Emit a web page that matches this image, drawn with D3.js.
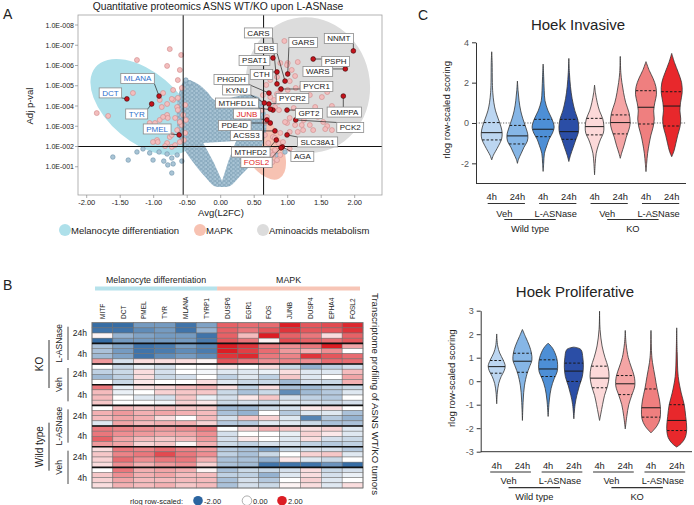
<!DOCTYPE html>
<html><head><meta charset="utf-8">
<script src="https://cdn.jsdelivr.net/npm/d3@7"></script>
<style>body{margin:0;background:#fff}svg{display:block}text{font-family:Arial,"Liberation Sans",Helvetica,sans-serif;fill:#222}</style>
</head><body><svg id="c" width="694" height="505"></svg>
<script>
// ================= DATA =================
// Panel A: volcano
const volcanoTitle = "Quantitative proteomics ASNS WT/KO upon L-ASNase";
const fcTicks = [-2,-1.5,-1,-0.5,0,0.5,1,1.5,2];
const pvalTicks = [8,7,6,5,4,3,2,1];
const pvalTickLabels = ["1.0E-008","1.0E-007","1.0E-006","1.0E-005","1.0E-004","1.0E-003","1.0E-002","1.0E-001"];
const fcCutoffs = [-0.56, 0.64];
const nlpCutoff = 2;
// dense non-significant cloud outline (L2FC, -log10 p) and its empty V-shaped core
const cloudFC  = [-0.53,-0.34,-0.20,-0.09,0.14,0.36,0.56,0.66,0.68,0.62,0.51,0.29,0.14,0.02,-0.10,-0.23,-0.38,-0.52,-0.61,-0.65,-0.65,-0.61];
const cloudNLP = [5.28,5.09,4.69,4.30,4.40,4.54,4.44,3.80,2.81,2.07,1.33,0.54,0.05,0.0,0.05,0.49,1.09,1.73,2.32,3.06,4.05,4.79];
const holeFC  = [-0.26,0.23,0.12,0.02,-0.10];
const holeNLP = [2.17,2.27,1.33,0.30,1.19];
// significant proteins (pink)
const pinkFC = [-0.76,-0.59,-1.25,-0.80,-0.61,-0.64,-0.71,-0.86,-1.31,-0.91,-0.88,-0.71,-0.65,-1.85,-1.68,-0.80,-0.68,-0.56,-0.58,-0.91,-1.06,-0.65,-0.53,-0.76,-0.61,-0.95,-0.80,-0.73,-1.01,-0.68,-0.86,-0.73,-0.83,-0.64,-0.73,-0.80,-0.64,-0.86,-0.79,-0.61,-0.98,-1.09,-0.94,-0.58,-0.53,-0.55,-0.52,
  0.95,1.08,1.00,1.15,1.06,1.11,1.03,1.30,1.21,1.12,1.00,0.89,0.84,0.74,0.80,0.86,0.81,0.87,1.09,0.99,1.11,1.21,1.33,1.53,1.59,1.38,1.15,0.89,0.78,0.66,1.36,1.45,1.66,1.41,1.51,1.59,0.99,0.84,1.03,0.96,1.24,1.66,1.56,1.23,1.03,0.81,0.86,0.93,1.03,0.81,0.89,0.74,0.71,0.66,0.78,0.84,0.77,0.69,0.89,0.62,0.63,0.68,0.74,1.18,1.33];
const pinkNLP = [6.81,6.52,6.27,5.98,5.78,5.28,4.79,4.64,4.64,4.30,3.95,4.30,3.95,3.65,3.51,3.56,3.41,3.56,3.06,3.31,3.16,2.81,2.67,2.47,2.22,2.32,2.17,1.98,2.22,2.07,2.81,2.57,2.02,4.40,4.35,4.10,3.80,3.46,3.41,3.21,3.16,2.96,2.22,4.89,4.05,2.32,3.31,
  7.21,7.11,6.12,6.17,5.78,5.48,5.23,5.58,4.94,4.89,4.79,4.79,4.59,4.44,4.30,4.20,3.95,3.80,3.90,3.16,3.06,3.06,3.06,3.21,3.01,2.81,2.72,2.67,2.47,3.21,3.56,3.46,4.00,3.95,4.44,4.69,6.02,5.43,3.41,3.21,3.31,2.81,2.86,2.81,2.72,2.42,2.17,2.22,1.88,1.83,1.58,1.73,2.17,2.57,1.58,1.33,1.23,3.46,6.12,3.80,4.54,5.04,5.28,4.30,4.54];
// scattered non-significant proteins (blue)
const blueFC  = [-1.61,-1.38,-1.16,-1.06,-1.01,-0.85,-0.80,-0.73,-0.71,-0.79,-0.73,-0.65,-0.58,-0.92,-1.25,-0.46,-0.52,0.96,0.83];
const blueNLP = [1.48,1.33,1.88,1.68,1.33,1.28,1.63,1.43,1.14,1.09,0.69,1.58,1.28,1.73,1.73,5.14,5.28,1.73,1.58];
// highlighted proteins
const hitGenes = ["NNMT","PSPH","WARS","GARS","CBS","CARS","PSAT1","CTH","PHGDH","KYNU","PYCR1","PYCR2","MTHFD1L","GPT2","GMPPA","JUNB","PDE4D","PCK2","ACSS3","SLC38A1","MTHFD2","AGA","FOSL2","MLANA","DCT","TYR","PMEL"];
const hitFC  = [1.98,1.38,1.86,1.00,0.96,0.84,0.78,0.84,0.72,0.65,0.90,0.72,0.78,0.99,1.83,0.69,0.74,1.12,0.81,0.99,0.83,0.92,0.90,-0.92,-1.40,-1.03,-0.62];
const hitNLP = [6.72,6.32,5.83,5.58,5.23,5.09,6.37,5.68,4.64,4.15,4.84,4.10,3.80,3.80,4.49,3.31,3.16,3.31,2.77,2.57,2.32,1.98,1.93,4.49,4.35,4.10,2.57];
const hitPathway = ["AA","AA","AA","AA","AA","AA","AA","AA","AA","AA","AA","AA","AA","AA","AA","MAPK","AA","AA","AA","AA","AA","AA","MAPK","MEL","MEL","MEL","MEL"];
const extraHitFC = [0.74], extraHitNLP = [3.85];
const pathwayNames = ["Melanocyte differentiation","MAPK","Aminoacids metabolism"];

// Panel B: heatmap
const hmGenes = ["MITF","DCT","PMEL","TYR","MLANA","TYRP1","DUSP6","EGR1","FOS","JUNB","DUSP4","EPHA4","FOSL2"];
const hmGeneSets = ["Melanocyte differentiation","MAPK"];
const hmGeneSetSize = [6,7];
const hmGenotypes = ["KO","Wild type"];
const hmTreatments = ["L-ASNase","Veh"];
const hmTimes = ["24h","4h"];
const hmValues = [
 [-1.9,-1.9,-1.3,-1.3,-1.8,-1.2, 1.4,1.3,1.3,2.0,1.5,1.6,1.9],
 [-1.8,-1.8,-1.5,-1.3,-1.8,-1.0, 1.4,1.2,1.5,1.8,1.5,1.5,1.8],
 [0.1,-1.0,-1.2,-1.3,-1.3,-1.8, 1.4,0.6,2.0,1.4,1.2,0.3,1.4],
 [-1.9,-1.3,-1.3,-1.3,-1.3,-1.7, 1.5,1.2,0.1,1.6,1.4,1.3,1.5],
 [-0.8,-1.2,-1.8,-1.7,-1.3,-1.6, 2.0,1.8,1.2,1.0,1.2,2.0,0.8],
 [-0.8,-1.3,-1.8,-1.7,-1.5,-1.7, 2.0,1.7,1.3,0.9,0.7,1.0,0.0],
 [-0.9,-1.2,-1.8,-1.5,-1.3,-1.5, 1.8,1.9,1.2,1.1,1.8,1.5,1.3],
 [0.9,-0.4,0.3,0.3,0.3,0.1, 1.5,1.2,1.0,1.1,1.0,1.3,1.3],
 [0.0,-0.5,-0.2,-0.4,0.0,0.0, 0.2,0.0,0.3,-0.5,-1.0,-0.6,-0.4],
 [-0.6,-0.5,0.3,-0.4,0.0,-0.1, -0.3,-0.3,-0.2,0.3,-0.3,-0.3,0.6],
 [-0.9,-0.6,0.3,-0.5,-0.4,0.0, -0.6,-0.3,-0.6,0.5,-0.3,0.0,0.8],
 [0.0,-0.5,0.2,0.0,0.0,0.3, -0.3,-0.5,-0.5,-0.9,-0.4,-0.5,0.7],
 [1.2,-0.2,0.3,0.4,0.6,0.7, 0.3,-0.6,0.3,-0.8,-0.9,-0.6,-0.5],
 [0.6,-0.2,0.0,0.4,0.5,0.5, -0.5,-0.8,-0.5,-1.5,-0.9,-0.7,-0.3],
 [0.6,0.0,-0.3,-0.4,0.5,-0.2, -0.4,0.2,0.5,-0.4,-0.6,-0.7,0.0],
 [0.5,0.0,0.0,-0.1,0.4,0.2, -0.5,-0.4,-0.5,-0.3,-0.4,-0.5,-0.4],
 [0.0,0.6,0.5,0.6,0.5,0.5, -0.9,-0.9,-0.5,-0.4,0.2,0.3,0.0],
 [0.7,0.9,0.7,0.8,0.7,0.6, -0.8,-1.0,0.0,-0.7,-0.3,-0.3,-0.8],
 [0.6,0.8,0.7,0.3,0.0,0.6, -0.4,0.5,0.4,-0.3,-1.6,-0.7,-1.0],
 [-0.3,0.8,0.6,0.7,0.7,0.4, -0.7,-0.7,-0.3,-0.3,-0.5,-0.8,-0.8],
 [1.2,1.1,1.0,0.9,1.0,1.2, 0.0,0.4,0.7,0.5,0.3,0.4,-0.3],
 [1.2,1.0,0.9,0.8,0.8,1.0, -0.4,0.0,0.0,-0.2,0.4,0.2,-0.3],
 [1.4,0.8,0.6,0.5,0.6,0.9, -0.4,0.2,0.0,-0.3,0.3,-0.4,-0.5],
 [0.9,0.8,0.4,0.5,0.1,0.7, -0.5,-0.6,-0.4,-0.4,-0.6,-0.7,-0.6],
 [0.3,1.2,1.1,1.3,1.1,0.9, -0.7,-0.8,-1.2,-0.5,-0.4,-0.4,-0.7],
 [0.5,1.1,1.2,1.6,1.2,1.0, -0.6,-0.8,-0.5,0.0,0.4,0.5,-0.3],
 [0.4,1.3,1.0,1.2,1.2,0.7, -0.8,-0.8,-1.0,0.2,-0.3,-0.5,0.0],
 [0.3,1.0,0.7,0.9,1.0,0.4, -0.8,-0.9,-1.8,-1.8,-1.8,-1.4,-1.9],
 [0.0,1.2,0.7,0.8,0.7,0.1, -0.8,-0.5,-0.5,-0.4,0.3,-0.5,-0.4],
 [0.5,1.0,0.7,0.8,0.6,0.6, -0.6,-0.6,-1.0,-0.3,0.3,-0.4,-0.2],
 [0.4,0.8,0.6,0.6,0.6,0.6, -0.8,-0.4,-0.7,0.0,0.4,-0.3,0.0],
 [0.3,0.7,0.6,0.7,0.5,0.6, -0.8,-0.4,-0.5,0.1,0.3,-0.3,0.3]
];
const hmLegendValues = [-2,0,2];
const hmLegendLabels = ["-2.00","0.00","2.00"];

// Panel C: violins
const vConditions = ["WT Veh 4h","WT Veh 24h","WT L-ASNase 4h","WT L-ASNase 24h","KO Veh 4h","KO Veh 24h","KO L-ASNase 4h","KO L-ASNase 24h"];
const vTimes = ["4h","24h","4h","24h","4h","24h","4h","24h"];
const vTreatments = ["Veh","L-ASNase","Veh","L-ASNase"];
const vGenotypes = ["Wild type","KO"];
// density profiles: [score, relative half-width]
const invProfiles = [
 [[3.53,0],[3.0,0.04],[2.0,0.06],[1.5,0.1],[1.0,0.2],[0.6,0.35],[0.2,0.6],[-0.2,0.85],[-0.5,0.95],[-0.8,0.9],[-1.1,0.65],[-1.4,0.35],[-1.6,0.15],[-1.83,0]],
 [[2.08,0],[1.6,0.06],[1.1,0.15],[0.6,0.3],[0.2,0.5],[-0.2,0.75],[-0.6,0.95],[-0.9,0.9],[-1.2,0.6],[-1.5,0.35],[-1.8,0.1],[-2.0,0]],
 [[2.92,0],[2.3,0.05],[1.6,0.1],[1.1,0.17],[0.6,0.45],[0.2,0.8],[-0.2,1.0],[-0.5,0.85],[-0.8,0.55],[-1.1,0.35],[-1.5,0.12],[-2.0,0.05],[-2.4,0]],
 [[3.2,0],[2.5,0.05],[1.8,0.15],[1.2,0.3],[0.6,0.55],[0.2,0.8],[-0.2,0.9],[-0.5,0.85],[-0.8,0.65],[-1.2,0.4],[-1.6,0.15],[-1.91,0]],
 [[1.88,0],[1.5,0.08],[1.0,0.25],[0.6,0.45],[0.2,0.75],[-0.2,0.85],[-0.5,0.8],[-0.8,0.55],[-1.1,0.35],[-1.5,0.15],[-2.0,0.06],[-2.57,0]],
 [[3.3,0],[2.5,0.05],[2.0,0.15],[1.5,0.3],[1.0,0.5],[0.5,0.8],[0.0,0.9],[-0.3,0.8],[-0.7,0.55],[-1.1,0.35],[-1.5,0.12],[-1.75,0]],
 [[3.04,0],[2.6,0.3],[2.2,0.65],[1.8,0.9],[1.4,0.95],[1.0,0.8],[0.6,0.7],[0.2,0.75],[-0.2,0.65],[-0.6,0.45],[-1.0,0.3],[-1.5,0.15],[-2.0,0.06],[-2.41,0]],
 [[3.45,0],[3.0,0.25],[2.5,0.6],[2.0,0.9],[1.5,0.95],[1.0,0.8],[0.6,0.75],[0.2,0.82],[-0.2,0.75],[-0.6,0.55],[-1.0,0.38],[-1.4,0.2],[-1.67,0]]
];
const invMedian = [-0.48,-0.64,-0.31,-0.43,-0.18,0.02,0.78,0.84];
const invQ3 = [0.02,-0.12,0.18,0.18,0.23,0.40,1.60,1.55];
const invQ1 = [-0.84,-1.04,-0.68,-0.81,-0.59,-0.54,-0.05,-0.15];
const invTicks = [-2,0,2,4];
const proProfiles = [
 [[2.01,0],[1.5,0.1],[1.2,0.3],[0.9,0.65],[0.65,0.85],[0.45,0.75],[0.2,0.45],[-0.1,0.2],[-0.5,0.06],[-0.96,0]],
 [[2.2,0],[1.9,0.3],[1.5,0.7],[1.2,0.9],[0.9,0.95],[0.6,0.7],[0.3,0.45],[-0.2,0.2],[-0.8,0.08],[-1.67,0]],
 [[1.62,0],[1.4,0.45],[1.0,0.85],[0.7,0.95],[0.4,0.9],[0.1,0.6],[-0.3,0.3],[-0.8,0.12],[-1.5,0]],
 [[1.45,0],[1.35,0.7],[1.0,0.9],[0.6,0.95],[0.2,0.85],[-0.2,0.55],[-0.6,0.3],[-1.0,0.12],[-1.6,0]],
 [[2.98,0],[2.2,0.05],[1.5,0.25],[1.0,0.55],[0.6,0.85],[0.2,0.95],[-0.2,0.8],[-0.6,0.5],[-1.0,0.3],[-1.4,0.12],[-1.67,0]],
 [[2.16,0],[1.6,0.08],[1.0,0.3],[0.6,0.6],[0.2,0.9],[-0.2,0.95],[-0.6,0.65],[-1.0,0.35],[-1.5,0.15],[-2.03,0]],
 [[2.16,0],[1.2,0.06],[0.8,0.15],[0.2,0.4],[-0.3,0.6],[-0.8,0.85],[-1.2,0.95],[-1.6,0.9],[-1.9,0.6],[-2.2,0]],
 [[2.27,0],[1.2,0.05],[0.2,0.15],[-0.5,0.45],[-1.0,0.75],[-1.5,0.9],[-2.0,1.0],[-2.4,0.85],[-2.65,0.45],[-2.8,0]]
];
const proMedian = [0.62,0.85,0.52,0.43,0.13,-0.11,-1.13,-1.67];
const proQ3 = [0.88,1.19,0.91,0.77,0.64,0.24,-0.33,-1.0];
const proQ1 = [0.34,0.38,0.20,-0.01,-0.28,-0.57,-1.53,-2.10];
const proTicks = [-3,-2,-1,0,1,2,3];

// ================= STYLE / LAYOUT =================
const svg = d3.select("#c");
const defs = svg.append("defs");
const pathwayFill = {MEL:"#aee0ea", MAPK:"#f7c2b2", AA:"#dcdcdc"};
const pathwayText = {MEL:"#2f6fcc", MAPK:"#e02626", AA:"#222"};
const labelOffsets = {NNMT:[-14.5,-12.5],PSPH:[22.5,2.5],WARS:[-27.5,2.5],GARS:[15.5,-31.5],CBS:[-19,-32.5],CARS:[-18.5,-51],
  PSAT1:[-18.5,2.5],CTH:[-15.5,2.5],PHGDH:[-37.5,-13.5],KYNU:[-27.5,-13],PYCR1:[35.5,-2.5],PYCR2:[23.5,-5.5],MTHFD1L:[-36,-7],
  GPT2:[22,3.5],GMPPA:[1,16],JUNB:[-20,-6],PDE4D:[-35.5,2.5],PCK2:[54.5,7.5],ACSS3:[-28.5,4.5],"SLC38A1":[30.5,7],MTHFD2:[-25.5,12],
  AGA:[20,9.5],FOSL2:[-24.5,14.5],MLANA:[-21.5,-17.5],DCT:[-16.5,-6],TYR:[-15,10],PMEL:[-22,-6]};

// ---------- Panel A ----------
const fA = {l:78,t:15,r:382,b:195};
const xA = d3.scaleLinear().domain([-2,2]).range([86.7,354.7]);
const yA = d3.scaleLinear().domain([0,8]).range([187,25]);
const A = svg.append("g");
A.append("text").attr("x",3).attr("y",19).style("font-size","14px").text("A");
A.append("text").attr("x",218).attr("y",10).attr("text-anchor","middle").style("font-size","10.3px").text(volcanoTitle);
defs.append("clipPath").attr("id","clipA").append("rect").attr("x",fA.l).attr("y",fA.t).attr("width",fA.r-fA.l).attr("height",fA.b-fA.t);
const pat = defs.append("pattern").attr("id","cloudPat").attr("patternUnits","userSpaceOnUse").attr("width",4.6).attr("height",4);
pat.append("rect").attr("width",4.6).attr("height",4).attr("fill","#b4cad8");
[[1.15,1],[3.45,3]].forEach(([cx,cy])=>{[-4.6,0,4.6].forEach(dx=>[-4,0,4].forEach(dy=>{
  pat.append("circle").attr("cx",cx+dx).attr("cy",cy+dy).attr("r",1.8).attr("fill","#a9c4d5").attr("stroke","#6f93ab").attr("stroke-width",0.45);}));});

const plotA = A.append("g").attr("clip-path","url(#clipA)");
const ellipses = [
  {p:"MEL", cx:-1.16, cy:3.95, rx:62, ry:35, rot:40},
  {p:"AA", cx:1.30, cy:5.04, rx:62, ry:68, rot:-12},
  {p:"MAPK", cx:0.58, cy:2.25, rx:42, ry:20, rot:62}
];
ellipses.forEach(e=>{
  plotA.append("ellipse").attr("transform",`translate(${xA(e.cx)},${yA(e.cy)}) rotate(${e.rot})`)
   .attr("rx",e.rx).attr("ry",e.ry).attr("fill",pathwayFill[e.p]);
});
// dense cloud with V-shaped empty core
const outer = d3.line().x(d=>xA(d[0])).y(d=>yA(d[1])).curve(d3.curveCatmullRomClosed)(cloudFC.map((v,i)=>[v,cloudNLP[i]]));
const hole = d3.line().x(d=>xA(d[0])).y(d=>yA(d[1])).curve(d3.curveLinearClosed)(holeFC.map((v,i)=>[v,holeNLP[i]]));
plotA.append("path").attr("d",outer+hole).attr("fill-rule","evenodd").attr("fill","url(#cloudPat)");
plotA.selectAll("circle.b").data(blueFC.map((v,i)=>[v,blueNLP[i]])).join("circle").attr("class","b")
  .attr("cx",d=>xA(d[0])).attr("cy",d=>yA(d[1])).attr("r",2.3).attr("fill","#a9c4d5").attr("stroke","#6f93ab").attr("stroke-width",0.6);
plotA.selectAll("circle.p").data(pinkFC.map((v,i)=>[v,pinkNLP[i]])).join("circle").attr("class","p")
  .attr("cx",d=>xA(d[0])).attr("cy",d=>yA(d[1])).attr("r",2.5).attr("fill","#f3bdbd").attr("stroke","#cf8a8a").attr("stroke-width",0.6);
fcCutoffs.forEach(c=>plotA.append("line").attr("x1",xA(c)).attr("x2",xA(c)).attr("y1",fA.t).attr("y2",fA.b).attr("stroke","#111").attr("stroke-width",1));
plotA.append("line").attr("x1",fA.l).attr("x2",fA.r).attr("y1",yA(nlpCutoff)).attr("y2",yA(nlpCutoff)).attr("stroke","#111").attr("stroke-width",1);
A.append("rect").attr("x",fA.l).attr("y",fA.t).attr("width",fA.r-fA.l).attr("height",fA.b-fA.t).attr("fill","none").attr("stroke","#a0a0a0").attr("stroke-width",0.8);
pvalTicks.forEach((t,i)=>{
  A.append("line").attr("x1",fA.l-3).attr("x2",fA.l).attr("y1",yA(t)).attr("y2",yA(t)).attr("stroke","#888").attr("stroke-width",0.7);
  A.append("text").attr("x",fA.l-4).attr("y",yA(t)+2.5).attr("text-anchor","end").style("font-size","7px").text(pvalTickLabels[i]);
});
fcTicks.forEach(t=>{
  A.append("line").attr("x1",xA(t)).attr("x2",xA(t)).attr("y1",fA.b).attr("y2",fA.b+3).attr("stroke","#888").attr("stroke-width",0.7);
  A.append("text").attr("x",xA(t)).attr("y",204.5).attr("text-anchor","middle").style("font-size","7.5px").text(d3.format(".2f")(t).replace("−","-"));
});
A.append("text").attr("x",221).attr("y",215.5).attr("text-anchor","middle").style("font-size","9.5px").text("Avg(L2FC)");
A.append("text").attr("transform","translate(33,106) rotate(-90)").attr("text-anchor","middle").style("font-size","9.5px").text("Adj p-val");
const hits = hitGenes.map((g,i)=>({g, x:xA(hitFC[i]), y:yA(hitNLP[i]), p:hitPathway[i]}));
const labG = A.append("g");
const lineG = labG.append("g"), dotG = labG.append("g"), boxG = labG.append("g");
hits.forEach(h=>{
  const o = labelOffsets[h.g]; const cx=h.x+o[0], cy=h.y+o[1];
  const t = boxG.append("text").attr("x",cx).attr("y",cy+2.9).attr("text-anchor","middle").style("font-size","8px")
    .style("fill",pathwayText[h.p]).text(h.g);
  const w = t.node().getComputedTextLength()+6, hgt=10;
  boxG.insert("rect","text").attr("x",cx-w/2).attr("y",cy-hgt/2).attr("width",w).attr("height",hgt)
    .attr("fill","#fff").attr("stroke","#8c8c8c").attr("stroke-width",0.8);
  const ex = Math.max(cx-w/2, Math.min(cx+w/2, h.x)), ey = Math.max(cy-hgt/2, Math.min(cy+hgt/2, h.y));
  lineG.append("line").attr("x1",h.x).attr("y1",h.y).attr("x2",ex).attr("y2",ey).attr("stroke","#222").attr("stroke-width",0.7);
});
boxG.selectAll("text").raise();
const redPts = hits.map(h=>[h.x,h.y]).concat(extraHitFC.map((v,i)=>[xA(v),yA(extraHitNLP[i])]));
dotG.selectAll("circle").data(redPts).join("circle").attr("cx",d=>d[0]).attr("cy",d=>d[1]).attr("r",2.4)
  .attr("fill","#c4121b").attr("stroke","#3a0505").attr("stroke-width",0.6);
const legX = [65,200,263], legP=["MEL","MAPK","AA"];
pathwayNames.forEach((n,i)=>{
  A.append("circle").attr("cx",legX[i]).attr("cy",230).attr("r",6).attr("fill",pathwayFill[legP[i]]);
  A.append("text").attr("x",legX[i]+6).attr("y",233.5).style("font-size","9.5px").text(n);
});

// ---------- Panel B ----------
const B = svg.append("g");
B.append("text").attr("x",3).attr("y",290).style("font-size","14px").text("B");
const xH = d3.scaleBand().domain(hmGenes).range([92,363]);
const yH = d3.scaleBand().domain(d3.range(hmValues.length)).range([322.7,488]);
const col = d3.scaleLinear().domain([-2,0,2]).range(["#2b65a0","#ffffff","#dc1d24"]).clamp(true);
let start=0; const setCol=["#b6e2eb","#f7c5b6"];
hmGeneSets.forEach((s,i)=>{
  const g0=hmGenes[start], g1=hmGenes[start+hmGeneSetSize[i]-1];
  const x0 = i===0 ? xH(g0)+3 : xH(g0), x1 = xH(g1)+xH.bandwidth()-(i===1?3:0);
  B.append("rect").attr("x",x0).attr("y",286.5).attr("width",x1-x0).attr("height",4).attr("fill",setCol[i]);
  B.append("text").attr("x",(x0+x1)/2).attr("y",283).attr("text-anchor","middle").style("font-size","8.8px").text(s);
  start+=hmGeneSetSize[i];
});
hmGenes.forEach(g=>{
  B.append("text").attr("transform",`translate(${xH(g)+xH.bandwidth()/2+2.3},319) rotate(-90)`).style("font-size","6.5px").text(g);
});
hmValues.forEach((row,r)=>row.forEach((v,c)=>{
  B.append("rect").attr("x",xH(hmGenes[c])).attr("y",yH(r)).attr("width",xH.bandwidth()).attr("height",yH.bandwidth())
    .attr("fill",col(v)).attr("stroke","#6d6d6d").attr("stroke-width",0.5);
}));
B.append("rect").attr("x",92).attr("y",322.7).attr("width",271).attr("height",488-322.7).attr("fill","none").attr("stroke","#777").attr("stroke-width",0.8);
for(let k=1;k<8;k++){
  const yy = yH(k*4);
  B.append("line").attr("x1",92).attr("x2",363).attr("y1",yy).attr("y2",yy).attr("stroke","#111").attr("stroke-width",1.6);
}
for(let k=0;k<8;k++){
  const yc = yH(k*4)+2*yH.bandwidth();
  B.append("text").attr("x",87).attr("y",yc+3).attr("text-anchor","end").style("font-size","8.5px").text(hmTimes[k%2]);
}
for(let k=0;k<4;k++){
  const y0=yH(k*8), y1=yH(k*8+7)+yH.bandwidth(), yc=(y0+y1)/2;
  B.append("line").attr("x1",68).attr("x2",68).attr("y1",y0+4).attr("y2",y1-4).attr("stroke","#333").attr("stroke-width",0.9);
  B.append("text").attr("transform",`translate(62,${yc}) rotate(-90)`).attr("text-anchor","middle").style("font-size","8.5px").text(hmTreatments[k%2]);
}
for(let k=0;k<2;k++){
  const y0=yH(k*16), y1=yH(k*16+15)+yH.bandwidth(), yc=(y0+y1)/2;
  B.append("line").attr("x1",49).attr("x2",49).attr("y1",yc-24).attr("y2",yc+24).attr("stroke","#333").attr("stroke-width",1);
  B.append("text").attr("transform",`translate(43,${yc}) rotate(-90)`).attr("text-anchor","middle").style("font-size","10px").text(hmGenotypes[k]);
}
B.append("text").attr("transform","translate(372,394) rotate(90)").attr("text-anchor","middle").style("font-size","9.6px")
  .text("Transcriptome profiling of ASNS WT/KO tumors");
B.append("text").attr("x",183).attr("y",503.5).attr("text-anchor","end").style("font-size","7.5px").text("rlog row-scaled:");
const legHx=[198,247,282];
hmLegendValues.forEach((v,i)=>{
  B.append("circle").attr("cx",legHx[i]).attr("cy",500.7).attr("r",4.8).attr("fill",col(v)).attr("stroke",v===0?"#999":"none").attr("stroke-width",0.8);
  B.append("text").attr("x",legHx[i]+6).attr("y",503.5).style("font-size","7.5px").text(hmLegendLabels[i]);
});

// ---------- Panel C ----------
const C = svg.append("g");
C.append("text").attr("x",418).attr("y",20).style("font-size","14px").text("C");
const vColors = ["#bcd6f1","#86b6e6","#4d8fd6","#2b4ea6","#fcd9d9","#f5a5a5","#ef7f7f","#e8282c"];
function widthAt(prof,v){
  for(let i=0;i<prof.length-1;i++){const a=prof[i],b=prof[i+1];
    if(v<=a[0]&&v>=b[0]){const t=(a[0]-v)/(a[0]-b[0]);return a[1]+(b[1]-a[1])*t;}}
  return 0;
}
function violinPanel(o){
  const g=C.append("g");
  const y=d3.scaleLinear().domain(o.domain).range([o.yBot,o.yTop]);
  const x=d3.scalePoint().domain(vConditions).range(o.xRange);
  g.append("text").attr("x",o.titleX).attr("y",o.titleY).attr("text-anchor","middle").style("font-size","15px").text(o.title);
  const ax=g.append("g").attr("transform",`translate(${o.axisX},0)`)
    .call(d3.axisLeft(y).tickValues(o.ticks).tickFormat(d=>String(d)).tickSize(4).tickSizeOuter(0));
  ax.select(".domain").attr("stroke","#333");
  ax.selectAll(".tick line").attr("stroke","#333");
  ax.selectAll(".tick text").style("font-size","9px").style("fill","#555").style("font-family",'Arial,"Liberation Sans",sans-serif');
  g.append("line").attr("x1",o.axisX).attr("x2",o.axisR).attr("y1",o.yBot).attr("y2",o.yBot).attr("stroke","#333").attr("stroke-width",1);
  if(o.zeroLine) g.append("line").attr("x1",o.axisX).attr("x2",o.axisR).attr("y1",y(0)).attr("y2",y(0)).attr("stroke","#555").attr("stroke-width",0.9).attr("stroke-dasharray","1.2,1.5");
  g.append("text").attr("transform",`translate(${o.ylabX},${(o.yTop+o.yBot)/2-3}) rotate(-90)`).attr("text-anchor","middle").style("font-size","9.5px").text("rlog row-scaled scoring");
  const W=o.W;
  vConditions.forEach((c,i)=>{
    const cx=x(c), prof=o.profiles[i];
    const area=d3.area().y(d=>y(d[0])).x0(d=>cx-d[1]*W).x1(d=>cx+d[1]*W).curve(d3.curveCatmullRom);
    g.append("path").attr("d",area(prof)).attr("fill",vColors[i]).attr("stroke","#333").attr("stroke-width",0.8);
    [[o.med[i],null],[o.q3[i],"2.5,1.8"],[o.q1[i],"2.5,1.8"]].forEach(([v,da])=>{
      const hw=widthAt(prof,v)*W;
      g.append("line").attr("x1",cx-hw).attr("x2",cx+hw).attr("y1",y(v)).attr("y2",y(v)).attr("stroke","#1a1a1a").attr("stroke-width",1).attr("stroke-dasharray",da);
    });
    g.append("text").attr("x",cx).attr("y",o.yTime).attr("text-anchor","middle").style("font-size","9.3px").text(vTimes[i]);
  });
  const tc=[];
  for(let j=0;j<4;j++){
    const x0=x(vConditions[2*j])-o.pl, x1=x(vConditions[2*j+1])+o.pr;
    g.append("line").attr("x1",x0).attr("x2",x1).attr("y1",o.yPair).attr("y2",o.yPair).attr("stroke","#333").attr("stroke-width",1.2);
    const m=(x0+x1)/2-2; tc.push(m);
    g.append("text").attr("x",m).attr("y",o.yTreat).attr("text-anchor","middle").style("font-size","9.3px").text(vTreatments[j]);
  }
  for(let k=0;k<2;k++){
    g.append("line").attr("x1",tc[2*k]).attr("x2",tc[2*k+1]).attr("y1",o.yGrp).attr("y2",o.yGrp).attr("stroke","#333").attr("stroke-width",1.2);
    g.append("text").attr("x",(tc[2*k]+tc[2*k+1])/2).attr("y",o.yGeno).attr("text-anchor","middle").style("font-size","9.3px").text(vGenotypes[k]);
  }
}
violinPanel({title:"Hoek Invasive",titleX:578,titleY:30,domain:[-3,4],yBot:183.5,yTop:42.3,xRange:[491.7,671.7],axisX:476,axisR:686,
  ticks:invTicks,zeroLine:true,ylabX:450,W:11,profiles:invProfiles,med:invMedian,q3:invQ3,q1:invQ1,
  yTime:200,yPair:203.5,yTreat:216.5,yGrp:219.5,yGeno:231.5,pl:4,pr:7.5});
violinPanel({title:"Hoek Proliferative",titleX:575,titleY:297,domain:[-3,3],yBot:451.7,yTop:310.7,xRange:[496.7,676.7],axisX:480.7,axisR:692,
  ticks:proTicks,zeroLine:false,ylabX:455,W:10,profiles:proProfiles,med:proMedian,q3:proQ3,q1:proQ1,
  yTime:468.5,yPair:472,yTreat:483.5,yGrp:487.7,yGeno:500,pl:6.5,pr:8.5});
</script></body></html>
